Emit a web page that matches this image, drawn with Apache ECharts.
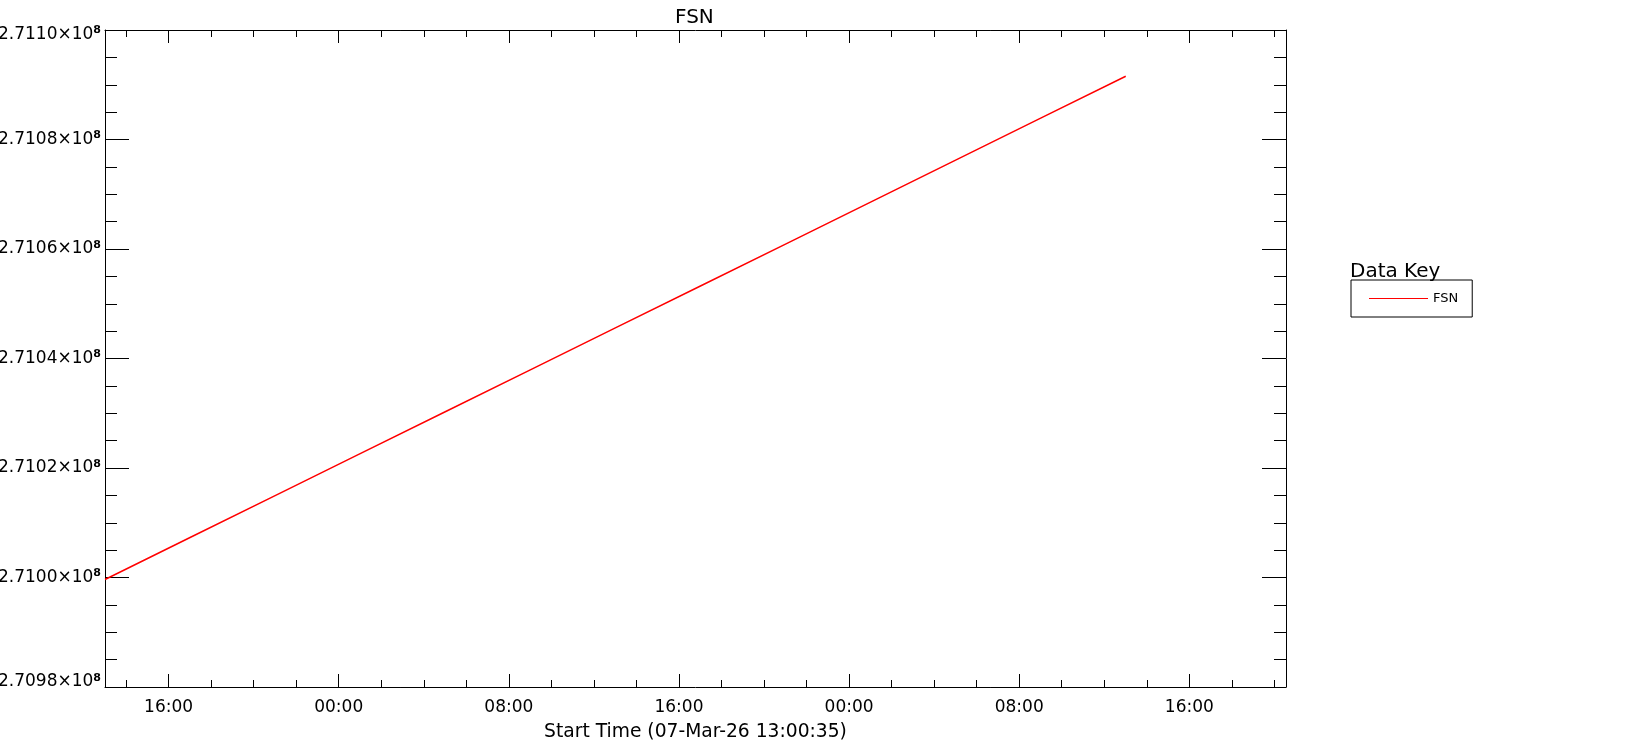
<!DOCTYPE html>
<html>
<head>
<meta charset="utf-8">
<script src="https://cdn.jsdelivr.net/npm/echarts@6/dist/echarts.min.js"></script>
<style>
html,body{margin:0;padding:0;background:#fff;}
#chart{width:1650px;height:750px;}
</style>
</head>
<body>
<div id="chart"></div>
<script>
// ---- data ----
const times = [
  '2026-03-07 13:00:35','2026-03-07 17:00:35','2026-03-07 21:00:35',
  '2026-03-08 01:00:35','2026-03-08 05:00:35','2026-03-08 09:00:35',
  '2026-03-08 13:00:35','2026-03-08 17:00:35','2026-03-08 21:00:35',
  '2026-03-09 01:00:35','2026-03-09 05:00:35','2026-03-09 09:00:35',
  '2026-03-09 13:00:35'
];
const fsnValues = [
  270999640, 271007300, 271014960,
  271022620, 271030280, 271037930,
  271045590, 271053250, 271060900,
  271068570, 271076230, 271083890,
  271091550
];
const seriesName = 'FSN';
const xAxisTitle = 'Start Time (07-Mar-26 13:00:35)';
const axisStart = '2026-03-07 13:00:35';
const axisEnd = '2026-03-09 20:32:45';
const yMin = 270980000, yMax = 271100000, yStep = 20000;

// x expressed in 8-hour units since 2026-03-07 00:00
const BASE = Date.parse('2026-03-07T00:00:00Z');
const UNIT = 8 * 3600 * 1000;
function toUnit(s){ return (Date.parse(s.replace(' ','T') + 'Z') - BASE) / UNIT; }
const xMin = toUnit(axisStart), xMax = toUnit(axisEnd);
const seriesData = times.map((t, i) => [toUnit(t), fsnValues[i]]);

function xLabel(v){
  const h = Math.round(((v * 8) % 24 + 24) % 24);
  return (h < 10 ? '0' : '') + h + ':00';
}
function yLabel(v){
  const txt = (v / 1e8).toFixed(4) + '×10';
  if (Math.abs(v - yMax) < 1) return '{mt|' + txt + '}{st|8}';
  if (Math.abs(v - yMin) < 1) return '{mb|' + txt + '}{sb|8}';
  return '{m|' + txt + '}{s|8}';
}

const FONT = 'DejaVu Sans';
const black = '#000';
const mainLbl = {fontFamily: FONT, fontSize: 17, color: black};
const supLbl = {fontFamily: FONT, fontSize: 11, fontWeight: 'bold', color: black};

const xCommon = {
  type: 'value', min: xMin, max: xMax,
  minInterval: 1, maxInterval: 1, splitNumber: 7,
  axisLine: {show: true, onZero: false, lineStyle: {color: black, width: 1}},
  axisTick: {show: true, inside: true, length: 13, lineStyle: {color: black, width: 1}},
  minorTick: {show: true, splitNumber: 4, length: 7, lineStyle: {color: black, width: 1}},
  splitLine: {show: false}, minorSplitLine: {show: false}
};
const yCommon = {
  type: 'value', min: yMin, max: yMax, interval: yStep,
  axisLine: {show: true, onZero: false, lineStyle: {color: black, width: 1}},
  axisTick: {show: true, inside: true, length: 24, lineStyle: {color: black, width: 1}},
  minorTick: {show: true, splitNumber: 4, length: 12, lineStyle: {color: black, width: 1}},
  splitLine: {show: false}, minorSplitLine: {show: false}
};

const chart = echarts.init(document.getElementById('chart'), null, {renderer: 'canvas'});
chart.setOption({
  backgroundColor: '#fff',
  animation: false,
  title: [
    {text: seriesName, left: 670, top: 3,
     textStyle: {fontFamily: FONT, fontSize: 20, fontWeight: 'normal', color: black}},
    {text: 'Data Key', left: 1345, top: 257,
     textStyle: {fontFamily: FONT, fontSize: 20, fontWeight: 'normal', color: black}}
  ],
  grid: {left: 105, right: 364, top: 30, bottom: 63, containLabel: false, outerBoundsMode: 'none'},
  legend: {
    left: 1351, top: 280, orient: 'vertical',
    borderColor: black, borderWidth: 1, padding: [12, 14, 12, 18],
    icon: 'rect', itemWidth: 59, itemHeight: 1,
    textStyle: {fontFamily: FONT, fontSize: 13, color: black},
    data: [seriesName]
  },
  xAxis: [
    Object.assign({}, xCommon, {
      position: 'bottom',
      axisLabel: {show: true, showMinLabel: false, showMaxLabel: false, margin: 12,
        formatter: xLabel, fontFamily: FONT, fontSize: 17, color: black},
      name: xAxisTitle, nameLocation: 'middle', nameGap: 36,
      nameTextStyle: {fontFamily: FONT, fontSize: 18.7, color: black}
    }),
    Object.assign({}, xCommon, {position: 'top', axisLabel: {show: false}})
  ],
  yAxis: [
    Object.assign({}, yCommon, {
      position: 'left',
      axisLabel: {show: true, margin: 4, formatter: yLabel,
        fontFamily: FONT, fontSize: 17, color: black,
        rich: {
          m: mainLbl,
          s: Object.assign({}, supLbl, {padding: [0, 0, 8, 0]}),
          mt: Object.assign({}, mainLbl, {padding: [9, 0, 0, 0]}),
          st: Object.assign({}, supLbl, {padding: [0, 0, 0, 0]}),
          mb: Object.assign({}, mainLbl, {padding: [0, 0, 10, 0]}),
          sb: Object.assign({}, supLbl, {padding: [0, 0, 18, 0]})
        }}
    }),
    Object.assign({}, yCommon, {position: 'right', axisLabel: {show: false}})
  ],
  series: [{
    name: seriesName, type: 'line', data: seriesData,
    showSymbol: false, symbol: 'none', smooth: false,
    lineStyle: {color: '#ff0000', width: 1.5}, itemStyle: {color: '#ff0000'},
    xAxisIndex: 0, yAxisIndex: 0
  }]
});
</script>
</body>
</html>
